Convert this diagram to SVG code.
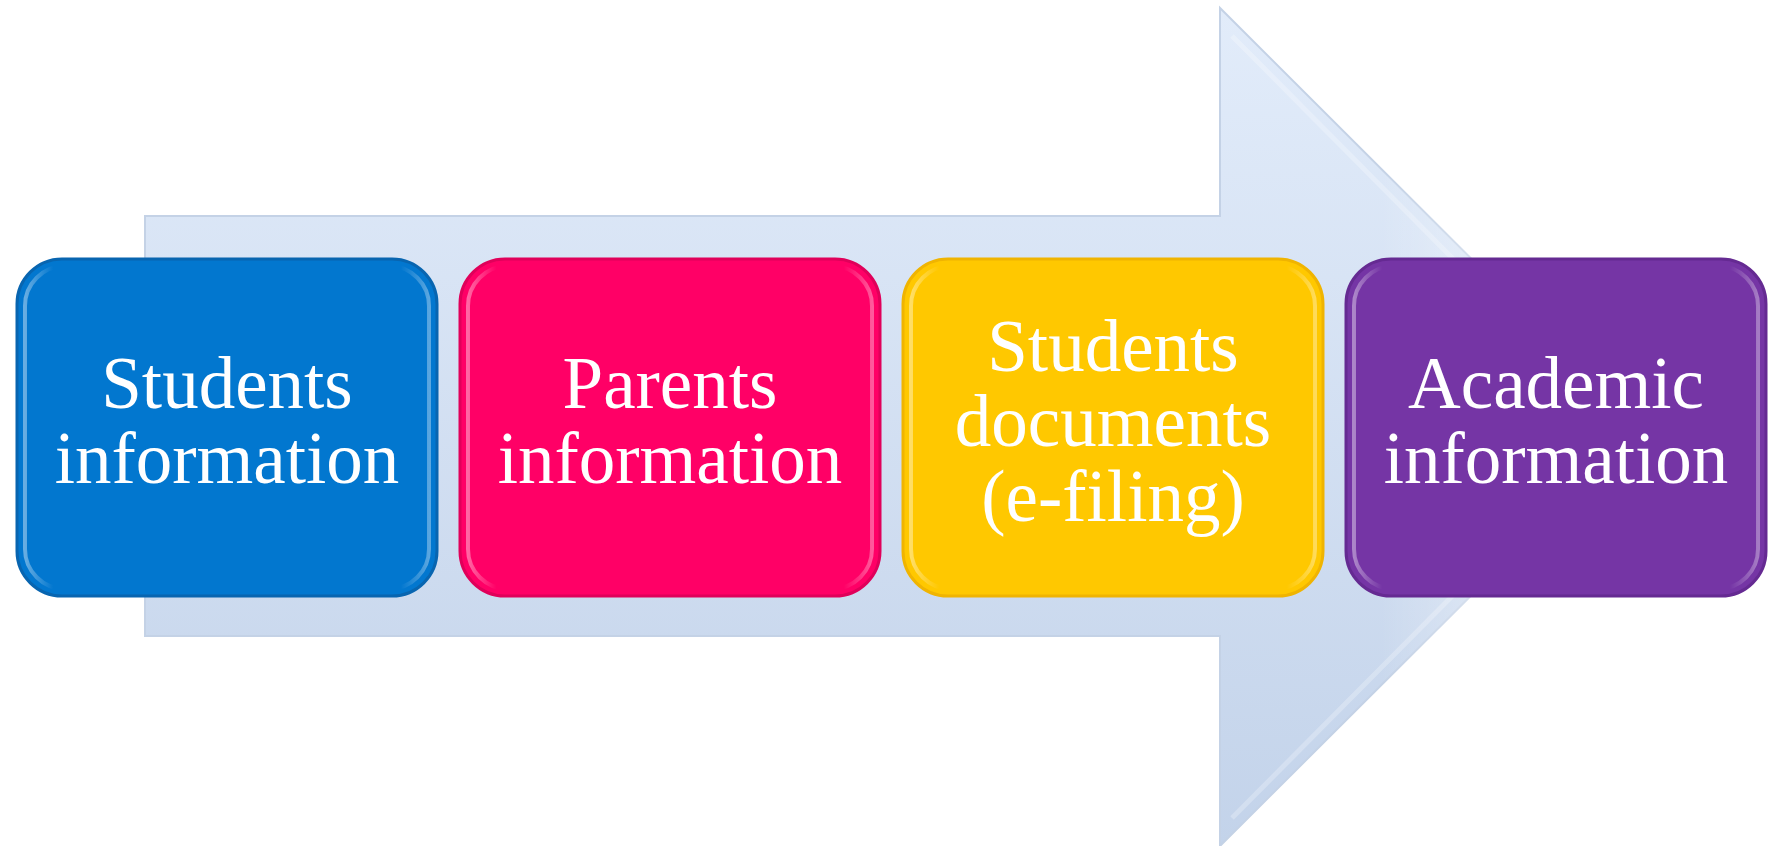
<svg xmlns="http://www.w3.org/2000/svg" width="1774" height="846" viewBox="0 0 1774 846">
<defs>
<linearGradient id="arrowFill" x1="0" y1="0" x2="0" y2="1">
<stop offset="0" stop-color="#e2ecfa"/>
<stop offset="1" stop-color="#c3d3ea"/>
</linearGradient>
<linearGradient id="fade" gradientUnits="userSpaceOnUse" x1="1380" y1="0" x2="1650" y2="0">
<stop offset="0" stop-color="#ffffff" stop-opacity="0"/>
<stop offset="1" stop-color="#ffffff" stop-opacity="0.85"/>
</linearGradient>
<linearGradient id="bevel" x1="0" y1="0" x2="1" y2="0">
<stop offset="0" stop-color="#ffffff" stop-opacity="0.4"/>
<stop offset="0.07" stop-color="#ffffff" stop-opacity="0.0"/>
<stop offset="0.93" stop-color="#ffffff" stop-opacity="0.0"/>
<stop offset="1" stop-color="#ffffff" stop-opacity="0.35"/>
</linearGradient>
</defs>
<style>
.box{stroke-width:3}
.inner{fill:none;stroke:url(#bevel);stroke-width:4}
.lbl{font-family:"Liberation Serif","Times New Roman",serif;font-size:73px;fill:#ffffff;text-anchor:middle}
</style>
<rect width="1774" height="846" fill="#ffffff"/>
<g id="arrow">
<path d="M145,216 L1220,216 L1220,8 L1640,427 L1220,846 L1220,636 L145,636 Z" fill="url(#arrowFill)" stroke="#c4d2e6" stroke-width="2"/>
<path d="M1232,36 L1620,427 L1232,818" fill="none" stroke="#ffffff" stroke-opacity="0.25" stroke-width="5"/>
<path d="M1380,0 L1660,0 L1660,846 L1380,846 Z" fill="url(#fade)"/>
</g>
<g id="connectors"></g>
<g id="n1">
<rect class="box" x="17" y="259" width="420" height="337" rx="45" fill="#0277cf" stroke="#0865b0"/>
<rect class="inner" x="25" y="266" width="404" height="323" rx="40"/>
<text class="lbl" x="227" y="408">Students</text>
<text class="lbl" x="227" y="483">information</text>
</g>
<g id="n2">
<rect class="box" x="460" y="259" width="420" height="337" rx="45" fill="#ff0066" stroke="#e0005a"/>
<rect class="inner" x="468" y="266" width="404" height="323" rx="40"/>
<text class="lbl" x="670" y="408">Parents</text>
<text class="lbl" x="670" y="483">information</text>
</g>
<g id="n3">
<rect class="box" x="903" y="259" width="420" height="337" rx="45" fill="#ffc800" stroke="#f0b400"/>
<rect class="inner" x="911" y="266" width="404" height="323" rx="40"/>
<text class="lbl" x="1113" y="371">Students</text>
<text class="lbl" x="1113" y="446">documents</text>
<text class="lbl" x="1113" y="521">(e-filing)</text>
</g>
<g id="n4">
<rect class="box" x="1346" y="259" width="420" height="337" rx="45" fill="#7535a5" stroke="#652a92"/>
<rect class="inner" x="1354" y="266" width="404" height="323" rx="40"/>
<text class="lbl" x="1556" y="408">Academic</text>
<text class="lbl" x="1556" y="483">information</text>
</g>
</svg>
